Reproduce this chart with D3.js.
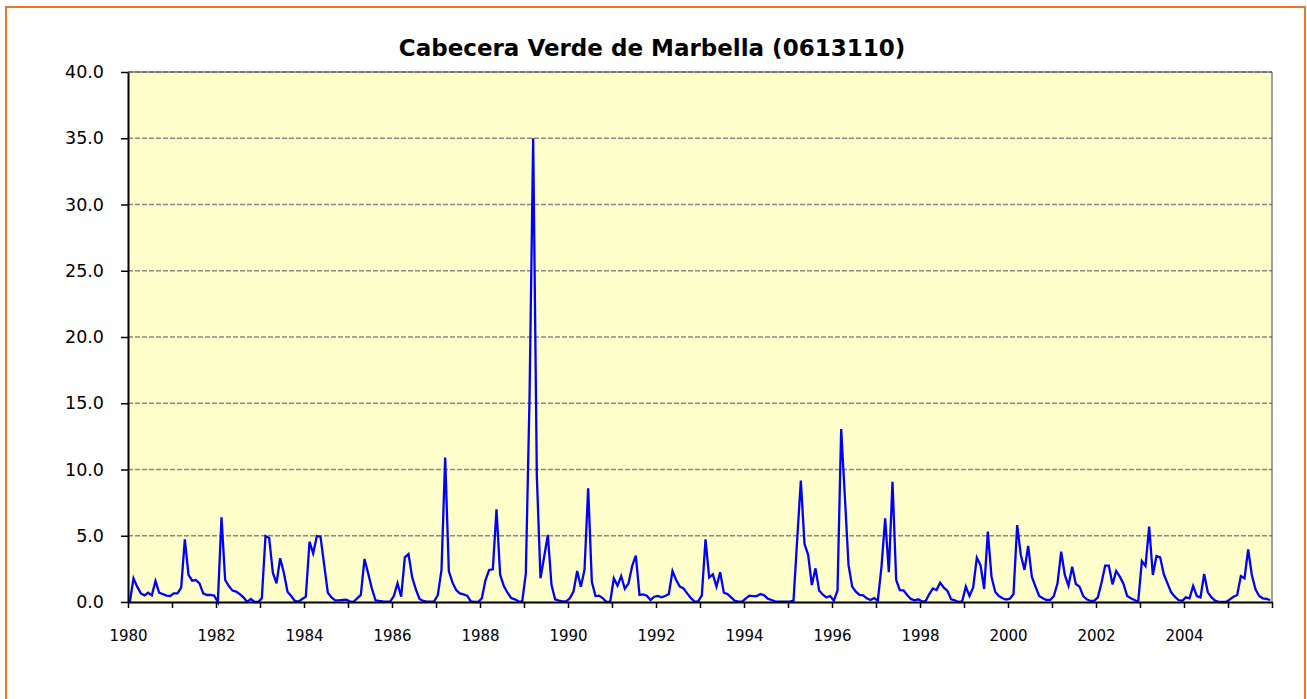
<!DOCTYPE html>
<html>
<head>
<meta charset="utf-8">
<script src="https://cdn.jsdelivr.net/npm/d3@7.9.0/dist/d3.min.js"></script>
<style>
  body { margin: 0; background: #fff; }
  svg { display: block; }
</style>
</head>
<body>
<svg id="chart" width="1307" height="699"></svg>
<script>
// chart data
const chartTitle = 'Cabecera Verde de Marbella (0613110)';
const firstYear = 1980;
const yearLabels = ['1980', '1982', '1984', '1986', '1988', '1990', '1992',
  '1994', '1996', '1998', '2000', '2002', '2004'];
const yTickValues = [0, 5, 10, 15, 20, 25, 30, 35, 40];

// monthly values, one line per year (12 months)
const flowValues = [
  0.00, 1.79, 1.16, 0.65, 0.50, 0.70, 0.50, 1.58, 0.70, 0.60, 0.48, 0.45,
  0.65, 0.65, 1.08, 4.73, 2.04, 1.61, 1.66, 1.41, 0.65, 0.53, 0.53, 0.48,
  0.00, 6.39, 1.66, 1.20, 0.86, 0.78, 0.60, 0.35, 0.00, 0.23, 0.00, 0.00,
  0.28, 4.98, 4.83, 2.21, 1.41, 3.30, 2.21, 0.78, 0.45, 0.08, 0.03, 0.23,
  0.40, 4.55, 3.67, 4.98, 4.93, 2.80, 0.70, 0.35, 0.13, 0.13, 0.15, 0.18,
  0.05, 0.00, 0.28, 0.53, 3.25, 2.16, 1.03, 0.13, 0.08, 0.05, 0.03, 0.03,
  0.45, 1.41, 0.40, 3.37, 3.62, 1.86, 0.96, 0.23, 0.08, 0.03, 0.03, 0.05,
  0.53, 2.42, 10.90, 2.34, 1.46, 0.90, 0.65, 0.58, 0.48, 0.05, 0.00, 0.00,
  0.28, 1.66, 2.42, 2.47, 7.00, 2.04, 1.20, 0.70, 0.30, 0.20, 0.05, 0.00,
  2.16, 15.30, 35.00, 9.50, 1.79, 3.42, 5.06, 1.28, 0.20, 0.10, 0.05, 0.05,
  0.28, 0.78, 2.34, 1.16, 2.42, 8.58, 1.53, 0.45, 0.48, 0.28, 0.00, 0.00,
  1.79, 1.23, 1.96, 1.00, 1.41, 2.72, 3.50, 0.53, 0.58, 0.48, 0.15, 0.40,
  0.45, 0.35, 0.45, 0.60, 2.34, 1.66, 1.16, 1.03, 0.65, 0.30, 0.03, 0.05,
  0.50, 4.73, 1.86, 2.09, 1.16, 2.24, 0.70, 0.60, 0.35, 0.08, 0.03, 0.03,
  0.28, 0.48, 0.45, 0.45, 0.60, 0.50, 0.25, 0.15, 0.05, 0.03, 0.03, 0.03,
  0.03, 0.10, 4.70, 9.16, 4.38, 3.55, 1.28, 2.54, 0.86, 0.55, 0.35, 0.45,
  0.10, 0.86, 13.05, 8.00, 2.80, 1.16, 0.78, 0.53, 0.50, 0.28, 0.15, 0.30,
  0.10, 2.67, 6.31, 2.25, 9.08, 1.66, 0.90, 0.88, 0.53, 0.23, 0.13, 0.20,
  0.05, 0.05, 0.58, 1.03, 0.90, 1.46, 1.08, 0.83, 0.20, 0.13, 0.00, 0.05,
  1.16, 0.45, 1.10, 3.35, 2.79, 0.98, 5.31, 1.91, 0.78, 0.45, 0.28, 0.18,
  0.25, 0.60, 5.81, 3.55, 2.42, 4.23, 1.91, 1.16, 0.45, 0.28, 0.15, 0.15,
  0.45, 1.41, 3.80, 2.04, 1.23, 2.67, 1.36, 1.16, 0.45, 0.20, 0.08, 0.08,
  0.35, 1.46, 2.74, 2.74, 1.33, 2.34, 1.91, 1.36, 0.45, 0.28, 0.15, 0.00,
  3.09, 2.72, 5.69, 2.04, 3.47, 3.37, 2.09, 1.41, 0.73, 0.40, 0.15, 0.08,
  0.35, 0.28, 1.21, 0.45, 0.35, 2.11, 0.73, 0.35, 0.10, 0.00, 0.00, 0.00,
  0.20, 0.40, 0.53, 1.96, 1.79, 3.97, 2.04, 0.96, 0.45, 0.28, 0.23, 0.15
];

const svg = d3.select('#chart');
const plot = { left: 128, right: 1272, top: 72, bottom: 602 };
const nMonths = flowValues.length;

// outer frame
svg.append('rect')
  .attr('x', 6).attr('y', 7)
  .attr('width', 1299).attr('height', 720)
  .attr('fill', '#fff')
  .attr('stroke', '#E8792A')
  .attr('stroke-width', 2);

// scales
const x = d3.scaleLinear().domain([0, nMonths]).range([plot.left, plot.right]);
const y = d3.scaleLinear().domain([0, 40]).range([plot.bottom, plot.top]);

// plot background
svg.append('rect')
  .attr('x', plot.left).attr('y', plot.top)
  .attr('width', plot.right - plot.left)
  .attr('height', plot.bottom - plot.top)
  .attr('fill', '#FFFFCC');

// gridlines
svg.append('g')
  .selectAll('line')
  .data(yTickValues.filter(d => d > 0))
  .join('line')
  .attr('x1', plot.left).attr('x2', plot.right)
  .attr('y1', d => y(d)).attr('y2', d => y(d))
  .attr('stroke', '#888')
  .attr('stroke-width', 1.5)
  .attr('stroke-dasharray', '5,2');

// plot border (top / right)
svg.append('path')
  .attr('d', `M${plot.left},${plot.top}H${plot.right}V${plot.bottom}`)
  .attr('fill', 'none')
  .attr('stroke', '#444')
  .attr('stroke-width', 1);

// the series
const line = d3.line()
  .x((d, i) => x(i + 0.5))
  .y(d => y(d));

svg.append('path')
  .datum(flowValues)
  .attr('d', line)
  .attr('fill', 'none')
  .attr('stroke', '#0000FF')
  .attr('stroke-width', 2.3)
  .attr('stroke-linejoin', 'miter');

// y axis
const yAxis = svg.append('g')
  .attr('transform', `translate(${plot.left},0)`)
  .call(d3.axisLeft(y)
    .tickValues(yTickValues)
    .tickFormat(d3.format('.1f'))
    .tickSize(7)
    .tickSizeOuter(0)
    .tickPadding(17));

// x axis: a tick every year, label every two years
const labelSet = new Set(yearLabels);
const xAxis = svg.append('g')
  .attr('transform', `translate(0,${plot.bottom})`)
  .call(d3.axisBottom(x)
    .tickValues(d3.range(0, nMonths + 1, 12))
    .tickFormat(d => {
      const yr = String(firstYear + d / 12);
      return labelSet.has(yr) ? yr : '';
    })
    .tickSize(6)
    .tickSizeOuter(0)
    .tickPadding(22));

[yAxis, xAxis].forEach(g => {
  g.select('.domain').attr('stroke', '#000').attr('stroke-width', 2);
  g.selectAll('.tick line').attr('stroke', '#000').attr('stroke-width', 1.5);
  g.selectAll('text')
    .attr('fill', '#000')
    .attr('font-family', '"DejaVu Sans", Verdana, sans-serif');
});
yAxis.selectAll('text').attr('font-size', 17.5);
xAxis.selectAll('text').attr('font-size', 15);

// title
svg.append('text')
  .attr('x', 652).attr('y', 56)
  .attr('text-anchor', 'middle')
  .attr('font-family', '"DejaVu Sans", Verdana, sans-serif')
  .attr('font-weight', 'bold')
  .attr('font-size', 23)
  .attr('fill', '#000')
  .text(chartTitle);
</script>
</body>
</html>
